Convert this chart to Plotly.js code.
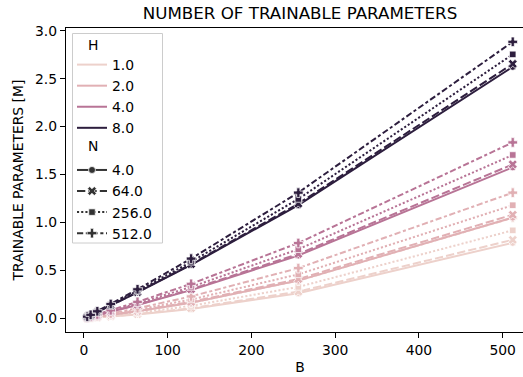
<!DOCTYPE html>
<html>
<head>
<meta charset="utf-8">
<script src="https://cdn.plot.ly/plotly-3.0.1.min.js"></script>
<style>
html,body{margin:0;padding:0;overflow:hidden;background:#fff;}
#chart{width:540px;height:377px;}
</style>
</head>
<body>
<div id="chart"></div>
<script>
// x values (B)
const B = [4, 8, 16, 32, 64, 128, 256, 512];
// hue levels (H) and style levels (N)
const H_LEVELS = [1, 2, 4, 8];
const N_LEVELS = [4, 64, 256, 512];
const H_LABELS = ["1.0", "2.0", "4.0", "8.0"];
const N_LABELS = ["4.0", "64.0", "256.0", "512.0"];

// trainable parameters [M]
const h1_n4   = [0.002, 0.004, 0.009, 0.019, 0.041, 0.099, 0.263, 0.788];
const h1_n64  = [0.002, 0.005, 0.010, 0.020, 0.045, 0.106, 0.279, 0.819];
const h1_n256 = [0.003, 0.006, 0.013, 0.027, 0.057, 0.131, 0.328, 0.918];
const h1_n512 = [0.004, 0.008, 0.017, 0.035, 0.074, 0.164, 0.393, 1.049];

const h2_n4   = [0.004, 0.008, 0.017, 0.035, 0.074, 0.164, 0.394, 1.051];
const h2_n64  = [0.004, 0.009, 0.018, 0.037, 0.078, 0.172, 0.410, 1.081];
const h2_n256 = [0.005, 0.010, 0.021, 0.043, 0.090, 0.197, 0.459, 1.180];
const h2_n512 = [0.006, 0.012, 0.025, 0.051, 0.106, 0.229, 0.524, 1.311];

const h4_n4   = [0.008, 0.017, 0.033, 0.068, 0.140, 0.295, 0.656, 1.575];
const h4_n64  = [0.008, 0.017, 0.034, 0.070, 0.143, 0.303, 0.672, 1.606];
const h4_n256 = [0.009, 0.019, 0.037, 0.076, 0.156, 0.328, 0.721, 1.704];
const h4_n512 = [0.010, 0.021, 0.041, 0.084, 0.172, 0.360, 0.786, 1.835];

const h8_n4   = [0.016, 0.033, 0.066, 0.133, 0.271, 0.558, 1.181, 2.623];
const h8_n64  = [0.017, 0.033, 0.067, 0.135, 0.274, 0.565, 1.196, 2.654];
const h8_n256 = [0.017, 0.035, 0.070, 0.141, 0.287, 0.590, 1.245, 2.753];
const h8_n512 = [0.018, 0.037, 0.074, 0.150, 0.303, 0.623, 1.311, 2.884];

const SERIES = [
  [h1_n4, h1_n64, h1_n256, h1_n512],
  [h2_n4, h2_n64, h2_n256, h2_n512],
  [h4_n4, h4_n64, h4_n256, h4_n512],
  [h8_n4, h8_n64, h8_n256, h8_n512]
];

const H_COLORS = ["#edd1cb", "#e1b0b4", "#b87496", "#2d1e3e"];
const N_DASH = ["solid", "8.3px,3.1px", "2.1px,2.1px", "6.2px,2.6px,3.1px,2.6px"];
const N_SYMBOL = ["circle", "x", "square", "cross"];
const N_MSIZE = [7, 8, 6.5, 8];
const LEG_GRAY = "#333333";
const FONT = "DejaVu Sans, sans-serif";

const traces = [];
H_LEVELS.forEach((h, hi) => {
  N_LEVELS.forEach((n, ni) => {
    traces.push({
      x: B, y: SERIES[hi][ni], type: "scatter", mode: "lines+markers",
      showlegend: false, hoverinfo: "skip",
      line: {color: H_COLORS[hi], width: 2, dash: N_DASH[ni]},
      marker: {symbol: N_SYMBOL[ni], size: N_MSIZE[ni], color: H_COLORS[hi],
               line: {color: "#ffffff", width: 0.75}}
    });
  });
});

// legend entries
traces.push({x: [null], y: [null], type: "scatter", mode: "lines", name: " ",
  showlegend: true, line: {color: "rgba(0,0,0,0)", width: 0}});
H_LABELS.forEach((lab, i) => {
  traces.push({x: [null], y: [null], type: "scatter", mode: "lines", name: lab,
    showlegend: true, line: {color: H_COLORS[i], width: 2}});
});
traces.push({x: [null], y: [null], type: "scatter", mode: "lines", name: "  ",
  showlegend: true, line: {color: "rgba(0,0,0,0)", width: 0}});
N_LABELS.forEach((lab, i) => {
  traces.push({x: [null], y: [null], type: "scatter", mode: "lines+markers", name: lab,
    showlegend: true, line: {color: LEG_GRAY, width: 2, dash: N_DASH[i]},
    marker: {symbol: N_SYMBOL[i], size: N_MSIZE[i], color: LEG_GRAY,
             line: {color: "#ffffff", width: 0.75}}});
});

const PLOT_H = 304;   // plot area height in px
const PLOT_W = 468;   // plot area width in px
const px2x = p => (p - 66) / PLOT_W;
const px2y = p => (332 - p) / PLOT_H;

const layout = {
  width: 540, height: 377,
  margin: {l: 66, r: 6, t: 28, b: 45},
  paper_bgcolor: "#ffffff", plot_bgcolor: "#ffffff",
  font: {family: FONT, size: 13.9, color: "#000000"},
  title: {text: "NUMBER OF TRAINABLE PARAMETERS", font: {family: FONT, size: 16.7, color: "#000"},
          xref: "paper", x: 0.5, xanchor: "center", yref: "container", y: 0.965, yanchor: "middle"},
  xaxis: {
    range: [-21.4, 537.4], tickvals: [0, 100, 200, 300, 400, 500],
    ticktext: ["0", "100", "200", "300", "400", "500"],
    showgrid: false, zeroline: false, showline: true, linecolor: "#000", linewidth: 1.1, mirror: true,
    ticks: "outside", ticklen: 5, tickwidth: 1.1, tickcolor: "#000",
    tickfont: {family: FONT, size: 13.9, color: "#000"},
    title: {text: "B", font: {family: FONT, size: 13.9, color: "#000"}, standoff: 5}
  },
  yaxis: {
    range: [-0.142, 3.028], tickvals: [0, 0.5, 1, 1.5, 2, 2.5, 3],
    ticktext: ["0.0", "0.5", "1.0", "1.5", "2.0", "2.5", "3.0"],
    showgrid: false, zeroline: false, showline: true, linecolor: "#000", linewidth: 1.1, mirror: true,
    ticks: "outside", ticklen: 5, tickwidth: 1.1, tickcolor: "#000",
    tickfont: {family: FONT, size: 13.9, color: "#000"},
    title: {text: "TRAINABLE PARAMETERS [M]", font: {family: FONT, size: 13.9, color: "#000"}, standoff: 8}
  },
  legend: {
    x: px2x(72), y: px2y(28), xanchor: "left", yanchor: "top",
    bgcolor: "rgba(0,0,0,0)", borderwidth: 0,
    font: {family: FONT, size: 13.9, color: "#000"}, tracegroupgap: 0,
    traceorder: "normal"
  },
  shapes: [
    {type: "rect", xref: "paper", yref: "paper", layer: "above",
     x0: px2x(72.5), x1: px2x(162.5), y0: px2y(243), y1: px2y(33.5),
     line: {color: "#cccccc", width: 1}, fillcolor: "rgba(255,255,255,0.8)"}
  ],
  annotations: [
    {text: "H", xref: "paper", yref: "paper", x: px2x(93), y: px2y(45), showarrow: false,
     font: {family: FONT, size: 13.9, color: "#000"}, xanchor: "center", yanchor: "middle"},
    {text: "N", xref: "paper", yref: "paper", x: px2x(93), y: px2y(146), showarrow: false,
     font: {family: FONT, size: 13.9, color: "#000"}, xanchor: "center", yanchor: "middle"}
  ]
};

Plotly.newPlot("chart", traces, layout, {displayModeBar: false, staticPlot: true});
</script>
</body>
</html>
